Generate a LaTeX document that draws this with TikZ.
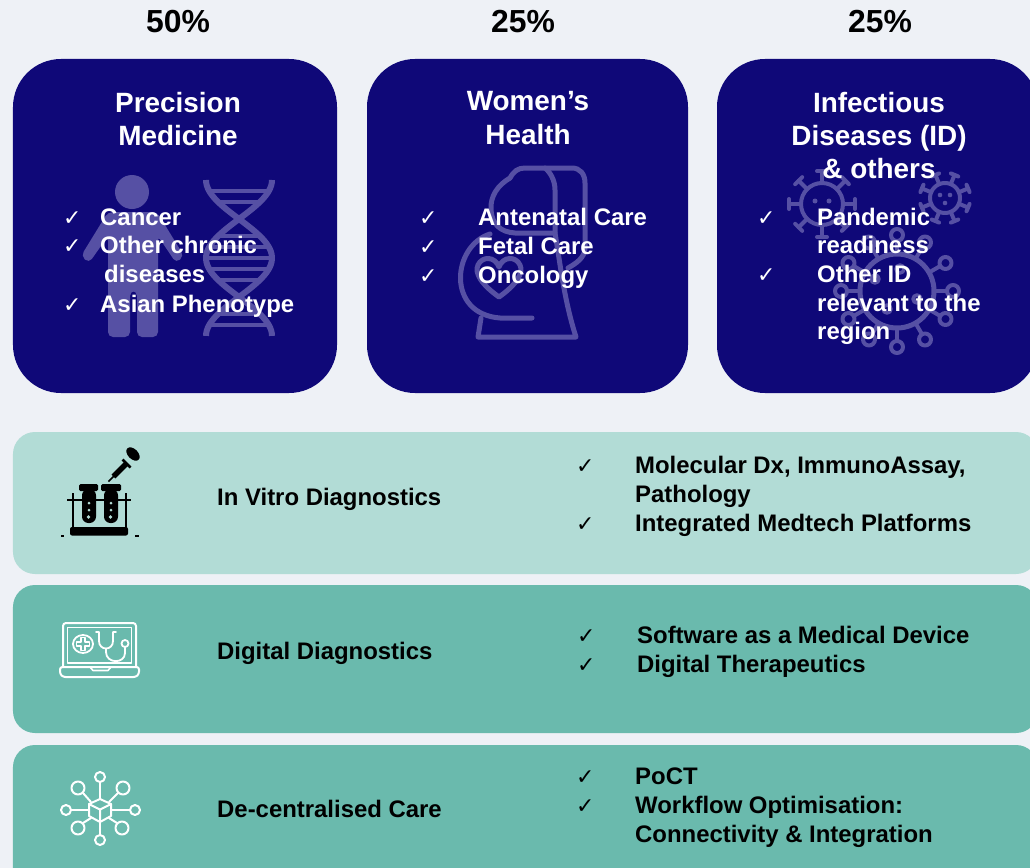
\documentclass[tikz,border=0pt]{standalone}
\usepackage{fontspec}
\setmainfont{Liberation Sans}
\newfontfamily\symfont{DejaVu Sans}
\definecolor{bgc}{RGB}{238,241,246}
\definecolor{navy}{RGB}{15,8,120}
\definecolor{tealL}{RGB}{178,220,214}
\definecolor{tealD}{RGB}{106,186,173}
\definecolor{faint}{RGB}{86,80,164}
\tikzset{
  topbox/.style={fill=navy, draw=none, rounded corners=48bp, inner sep=0pt},
  rowbox/.style={draw=none, rounded corners=22bp, inner sep=0pt},
  pct/.style={font=\fontsize{32}{32}\selectfont\bfseries, text=black, anchor=base, inner sep=0pt},
  ttl/.style={font=\fontsize{28}{28}\selectfont\bfseries, text=white, anchor=base, inner sep=0pt},
  wli/.style={font=\fontsize{24}{24}\selectfont\bfseries, text=white, anchor=base west, inner sep=0pt},
  bli/.style={font=\fontsize{24}{24}\selectfont\bfseries, text=black, anchor=base west, inner sep=0pt},
  wck/.style={font=\fontsize{22}{22}\selectfont\symfont, text=white, anchor=base west, inner sep=0pt},
  bck/.style={font=\fontsize{22}{22}\selectfont\symfont, text=black, anchor=base west, inner sep=0pt},
  deco/.style={draw=faint, line width=5bp, line cap=round, line join=round},
  wicon/.style={draw=white, line width=2bp, line cap=round, line join=round},
}
\begin{document}
\begin{tikzpicture}[x=1bp,y=-1bp]
\useasboundingbox (0,0) rectangle (1030,868);
\clip (0,0) rectangle (1030,868);
\fill[bgc] (0,0) rectangle (1030,868);

% ---------- top boxes ----------
\node[topbox, minimum width=324bp, minimum height=334bp] (pmBox) at (175,226) {};
\node[topbox, minimum width=321bp, minimum height=334bp] (whBox) at (527.5,226) {};
\node[topbox, minimum width=321bp, minimum height=334bp] (idBox) at (877.5,226) {};

% ---------- rows ----------
\node[rowbox, fill=tealL, minimum width=1025bp, minimum height=142bp] (ivdRow) at (525.5,503) {};
\node[rowbox, fill=tealD, minimum width=1025bp, minimum height=148bp] (ddRow) at (525.5,659) {};
\node[rowbox, fill=tealD, minimum width=1025bp, minimum height=150bp] (dcRow) at (525.5,820) {};

% ---------- faint decorations: person + DNA ----------
\fill[faint] (132,192) circle (17);
\fill[faint, rounded corners=5] (108,212) -- (157,212) -- (184,256) -- (176,263) -- (158,236)
  -- (158,337) -- (137,337) -- (137,291) -- (130,291) -- (130,337) -- (108,337)
  -- (108,236) -- (89,263) -- (81,256) -- cycle;
\draw[deco, line width=6bp, line cap=butt] plot[domain=0:1, samples=60, smooth] ({239-33*cos(360*\x)}, {180+156*\x});
\draw[deco, line width=6bp, line cap=butt] plot[domain=0:1, samples=60, smooth] ({239+33*cos(360*\x)}, {180+156*\x});
\foreach \t in {0.07,0.14,0.36,0.43,0.5,0.57,0.64,0.86,0.93}
  \draw[deco, line width=4bp, line cap=butt] ({239-33*cos(360*\t)},{180+156*\t}) -- ({239+33*cos(360*\t)},{180+156*\t});

% ---------- faint decorations: pregnant woman ----------
\draw[deco] (510,178) .. controls (514,171) and (518,168) .. (525,168) -- (572,168)
  .. controls (580,168) and (585,174) .. (585,183) -- (585,248) .. controls (585,258) and (575,264) .. (568,268);
\draw[deco] (545,168) .. controls (550,172) and (555,180) .. (555,190) -- (555,233)
  .. controls (560,262) and (564,300) .. (576,337) -- (478,337) -- (481,318);
\draw[deco] (510,178) .. controls (498,185) and (490,196) .. (491,210) .. controls (492,224) and (500,232) .. (515,233) -- (555,233);
\draw[deco] (490,234) .. controls (452,246) and (446,314) .. (500,318) -- (532,318);
\draw[deco] (499,297) .. controls (482,285) and (474,273) .. (478,265) .. controls (482,256) and (495,256) .. (499,267)
  .. controls (503,256) and (516,256) .. (520,265) .. controls (524,273) and (516,285) .. (499,297) -- cycle;

% ---------- faint decorations: viruses ----------
\begin{scope}[shift={(822,204)}]
  \draw[deco, line width=4bp] (0,0) circle (21);
  \foreach \a in {0,45,...,315} {
    \draw[deco, line width=4bp] (\a:21) -- (\a:33);
    \draw[deco, line width=4bp, rotate=\a] (33,-5) -- (33,5);
  }
  \fill[faint] (-7,-3) circle (2.5) (7,-3) circle (2.5) (0,7) circle (2.5);
\end{scope}
\begin{scope}[shift={(945,198)}]
  \draw[deco, line width=4bp] (0,0) circle (15);
  \foreach \a in {22.5,67.5,...,337.5} {
    \draw[deco, line width=4bp] (\a:15) -- (\a:25);
    \draw[deco, line width=4bp, rotate=\a] (25,-4) -- (25,4);
  }
  \fill[faint] (-5,-3) circle (2.3) (5,-3) circle (2.3) (0,5) circle (2.3);
\end{scope}
\begin{scope}[shift={(897,291)}]
  \draw[deco] (0,0) circle (37);
  \foreach \a in {0,30,...,330} {
    \draw[deco, line width=4bp] (\a:37) -- (\a:50);
    \draw[deco, line width=4bp] (\a:56) circle (6);
  }
  \draw[deco, line width=3.5bp] (3,-22) circle (4) (-22,-12) circle (4) (20,8) circle (4) (-10,18) circle (4);
\end{scope}

% ---------- percentages ----------
\node[pct] (pctPM) at (178,32) {50\%};
\node[pct] (pctWH) at (523,32) {25\%};
\node[pct] (pctID) at (880,32) {25\%};

% ---------- titles ----------
\node[ttl] (pmT1) at (178,112) {Precision};
\node[ttl] (pmT2) at (178,145) {Medicine};
\node[ttl] (whT1) at (528,110) {Women’s};
\node[ttl] (whT2) at (528,144) {Health};
\node[ttl] (idT1) at (879,112) {Infectious};
\node[ttl] (idT2) at (879,145) {Diseases (ID)};
\node[ttl] (idT3) at (879,178) {\& others};

% ---------- box bullets ----------
\node[wck] (pmC1) at (63,225) {✓};
\node[wck] (pmC2) at (63,253) {✓};
\node[wck] (pmC3) at (63,312) {✓};
\node[wli] (pmL1) at (100,225) {Cancer};
\node[wli] (pmL2) at (100,253) {Other chronic};
\node[wli] (pmL3) at (104,282) {diseases};
\node[wli] (pmL4) at (100,312) {Asian Phenotype};

\node[wck] (whC1) at (419,225) {✓};
\node[wck] (whC2) at (419,254) {✓};
\node[wck] (whC3) at (419,283) {✓};
\node[wli] (whL1) at (478,225) {Antenatal Care};
\node[wli] (whL2) at (478,254) {Fetal Care};
\node[wli] (whL3) at (478,283) {Oncology};

\node[wck] (idC1) at (757,225) {✓};
\node[wck] (idC2) at (757,282) {✓};
\node[wli] (idL1) at (817,225) {Pandemic};
\node[wli] (idL2) at (817,253) {readiness};
\node[wli] (idL3) at (817,282) {Other ID};
\node[wli] (idL4) at (817,311) {relevant to the};
\node[wli] (idL5) at (817,339) {region};

% ---------- row labels ----------
\node[bli] (ivdLab) at (217,505) {In Vitro Diagnostics};
\node[bli] (ddLab) at (217,659) {Digital Diagnostics};
\node[bli] (dcLab) at (217,817) {De-centralised Care};

\node[bck] (ivdC1) at (576,473) {✓};
\node[bck] (ivdC2) at (576,531) {✓};
\node[bli] (ivdL1) at (635,473) {Molecular Dx, ImmunoAssay,};
\node[bli] (ivdL2) at (635,502) {Pathology};
\node[bli] (ivdL3) at (635,531) {Integrated Medtech Platforms};

\node[bck] (ddC1) at (577,643) {✓};
\node[bck] (ddC2) at (577,672) {✓};
\node[bli] (ddL1) at (637,643) {Software as a Medical Device};
\node[bli] (ddL2) at (637,672) {Digital Therapeutics};

\node[bck] (dcC1) at (576,784) {✓};
\node[bck] (dcC2) at (576,813) {✓};
\node[bli] (dcL1) at (635,784) {PoCT};
\node[bli] (dcL2) at (635,813) {Workflow Optimisation:};
\node[bli] (dcL3) at (635,842) {Connectivity \& Integration};

% ---------- IVD icon ----------
\draw[black, line width=1.5bp] (67,500) -- (131,500);
\draw[black, line width=1.5bp] (73,493) -- (73,529) (126,493) -- (126,529);
\fill[black, rounded corners=6.5] (82,489) -- (82,523) -- (96,523) -- (96,489) -- cycle;
\fill[black, rounded corners=6.5] (104,489) -- (104,523) -- (118,523) -- (118,489) -- cycle;
\fill[black, rounded corners=1.5] (79,484) rectangle (98,491);
\fill[black, rounded corners=1.5] (101,484) rectangle (121,491);
\fill[tealL] (89,503) circle (1.5) (89,510) circle (1.5) (88.5,517) circle (1.8)
  (111,503) circle (1.5) (111,510) circle (1.5) (110.5,517) circle (1.8);
\fill[black, rounded corners=2] (70,527) rectangle (128,535.5);
\draw[black, line width=1.3bp] (61,536) -- (64,536) (135,536) -- (139,536);
\draw[black, line width=5.5bp] (113.5,476.5) -- (126,464);
\draw[black, line width=1.6bp] (108.5,481.5) -- (114,476);
\draw[black, line width=2.5bp] (122.5,459.5) -- (130.5,467.5);
\fill[black, rotate around={-45:(133,454)}] (133,454) ellipse (8 and 5);

% ---------- Digital icon ----------
\draw[wicon, rounded corners=3] (63,667) -- (63,623) -- (136,623) -- (136,667);
\draw[wicon, line width=1.8bp] (67.5,627.5) rectangle (131.5,663);
\draw[wicon, rounded corners=2.5] (60,667) -- (139,667) -- (139,674) -- (136,677) -- (63,677) -- (60,674) -- cycle;
\draw[wicon, line width=1.6bp] (90,667) -- (93,670.5) -- (108,670.5) -- (111,667);
\draw[wicon, line width=1.8bp] (83,644) ellipse (10 and 9);
\draw[wicon, line width=1.4bp] (81,637.5) -- (85,637.5) -- (85,642) -- (89.5,642) -- (89.5,646) -- (85,646)
  -- (85,650.5) -- (81,650.5) -- (81,646) -- (76.5,646) -- (76.5,642) -- (81,642) -- cycle;
\draw[wicon, line width=1.8bp] (96,632) -- (99,632) -- (99,641) .. controls (99,651) and (113,651) .. (113,641) -- (113,632) -- (116,632);
\draw[wicon, line width=1.8bp] (106,648.5) -- (106,652) .. controls (106,664) and (125,664) .. (125,653) -- (125,647.5);
\draw[wicon, line width=1.8bp] (125,643.5) circle (3.5);

% ---------- De-centralised icon ----------
\draw[wicon] (100,799) -- (111,804) -- (111,816) -- (100,822) -- (89,816) -- (89,804) -- cycle;
\draw[wicon] (89,804) -- (100,809.5) -- (111,804) (100,809.5) -- (100,822);
\draw[wicon] (100,799) -- (100,782) (100,822) -- (100,835) (89,810) -- (71,810) (111,810) -- (130,810);
\draw[wicon] (91,802) -- (83,793) (109,802) -- (118,793) (91,818) -- (83,823) (109,818) -- (117,823);
\draw[wicon] (100,777) circle (5) (100,840) circle (5) (66,810) circle (5) (135,810) circle (5);
\draw[wicon] (78,788) circle (6.5) (123,788) circle (6.5) (78,828) circle (6.5) (122,828) circle (6.5);
\end{tikzpicture}
\end{document}
